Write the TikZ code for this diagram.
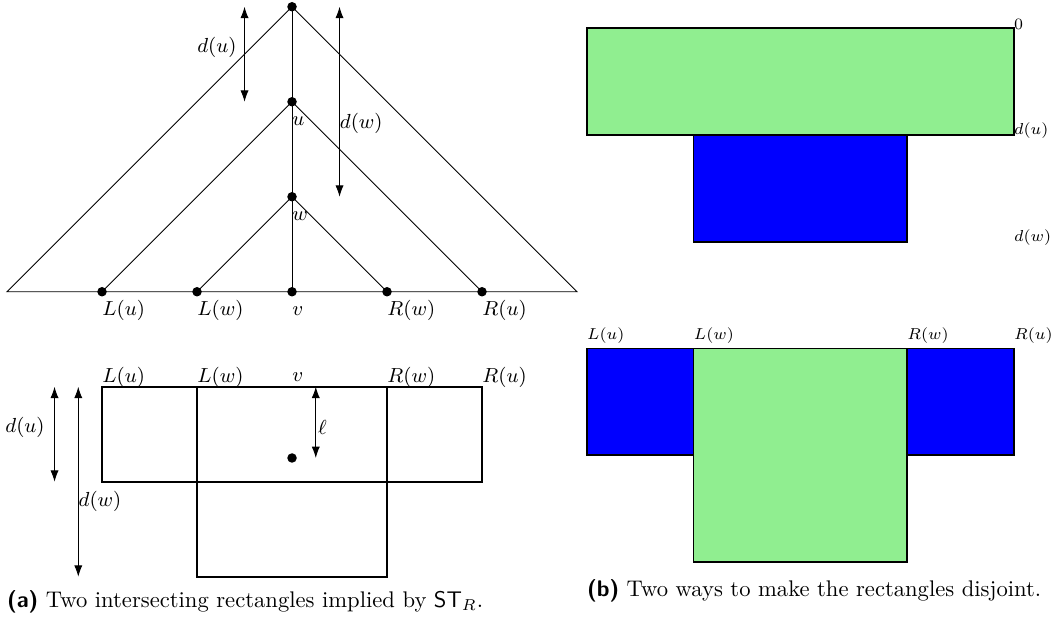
\documentclass[tikz,border=0pt]{standalone}
\usetikzlibrary{arrows.meta}
\definecolor{lgreen}{RGB}{144,238,144}
\begin{document}
\begin{tikzpicture}[x=42pt, y=42pt, >={Latex[length=5pt,width=3.6pt]}, font=\small,
    lbl/.style={anchor=west, inner sep=0pt}]
  \useasboundingbox (-3.074,-3.487) rectangle (8.0,3.071);
  % Tree points
  \coordinate (top) at (0,3);
  \coordinate (u) at (0,2);
  \coordinate (w) at (0,1);
  \coordinate (left) at (-3,0);
  \coordinate (right) at (3,0);
  \coordinate (Lu) at (-2,0);
  \coordinate (Lw) at (-1,0);
  \coordinate (v) at (0,0);
  \coordinate (Rw) at (1,0);
  \coordinate (Ru) at (2,0);
  % Triangles
  \draw (left) -- (top) -- (right) -- cycle;
  \draw (Lu) -- (u) -- (Ru);
  \draw (Lw) -- (w) -- (Rw);
  \draw (top) -- (v);
  \foreach \p in {top,u,w,Lu,Lw,v,Rw,Ru}
    \fill (\p) circle (2.1pt);
  \node[lbl] (ulab) at (0,1.8) {$u$};
  \node[lbl] (wlab) at (0,0.8) {$w$};
  \node[lbl] (Lulab) at (-2,-0.2) {$L(u)$};
  \node[lbl] (Lwlab) at (-1,-0.2) {$L(w)$};
  \node[lbl] (vlab) at (0,-0.2) {$v$};
  \node[lbl] (Rwlab) at (1,-0.2) {$R(w)$};
  \node[lbl] (Rulab) at (2,-0.2) {$R(u)$};
  % Depth arrows
  \draw[<->] (-0.5,3) -- (-0.5,2);
  \node[anchor=east] (dulab) at (-0.5,2.57) {$d(u)$};
  \draw[<->] (0.5,3) -- (0.5,1);
  \node[lbl] (dwlab) at (0.5,1.77) {$d(w)$};

  % Rectangles
  \draw[thick] (-2,-1) rectangle (2,-2);
  \draw[thick] (-1,-1) rectangle (1,-3);
  \node[lbl] (Lurect) at (-2,-0.9) {$L(u)$};
  \node[lbl] (Lwrect) at (-1,-0.9) {$L(w)$};
  \node[lbl] (vrect) at (0,-0.9) {$v$};
  \node[lbl] (Rwrect) at (1,-0.9) {$R(w)$};
  \node[lbl] (Rurect) at (2,-0.9) {$R(u)$};
  \fill (0,-1.75) circle (2.1pt);
  \draw[<->] (0.25,-1) -- (0.25,-1.75);
  \node[lbl] (ell) at (0.27,-1.43) {$\ell$};
  \draw[<->] (-2.5,-1) -- (-2.5,-2);
  \node[anchor=east, inner sep=0pt] (durect) at (-2.6,-1.43) {$d(u)$};
  \draw[<->] (-2.25,-1) -- (-2.25,-3);
  \node[lbl] (dwrect) at (-2.25,-2.21) {$d(w)$};
  \node[lbl, font=\normalsize] (capa) at (-3.003,-3.263)
    {\textsf{\textbf{(a)}} Two intersecting rectangles implied by $\mathsf{ST}_R$.};

  % Disjoint versions
  \begin{scope}[shift={(3.102,2.773)}, x=47.2pt, y=47.2pt, font=\scriptsize]
    \filldraw[thick, fill=lgreen] (0,0) rectangle (4,-1);
    \filldraw[thick, fill=blue] (1,-1) rectangle (3,-2);
    \node[lbl] (zero) at (4,0.04) {$0$};
    \node[lbl] (dub) at (4,-0.96) {$d(u)$};
    \node[lbl] (dwb) at (4,-1.96) {$d(w)$};
    \filldraw[thick, fill=blue] (0,-3) rectangle (1,-4);
    \filldraw[thick, fill=blue] (3,-3) rectangle (4,-4);
    \filldraw[thick, fill=lgreen] (1,-3) rectangle (3,-5);
    \node[lbl] (Lub) at (0,-2.88) {$L(u)$};
    \node[lbl] (Lwb) at (1,-2.88) {$L(w)$};
    \node[lbl] (Rwb) at (3,-2.88) {$R(w)$};
    \node[lbl] (Rub) at (4,-2.88) {$R(u)$};
    \node[lbl, font=\normalsize] (capb) at (0,-5.27)
      {\textsf{\textbf{(b)}} Two ways to make the rectangles disjoint.};
  \end{scope}
\end{tikzpicture}
\end{document}
